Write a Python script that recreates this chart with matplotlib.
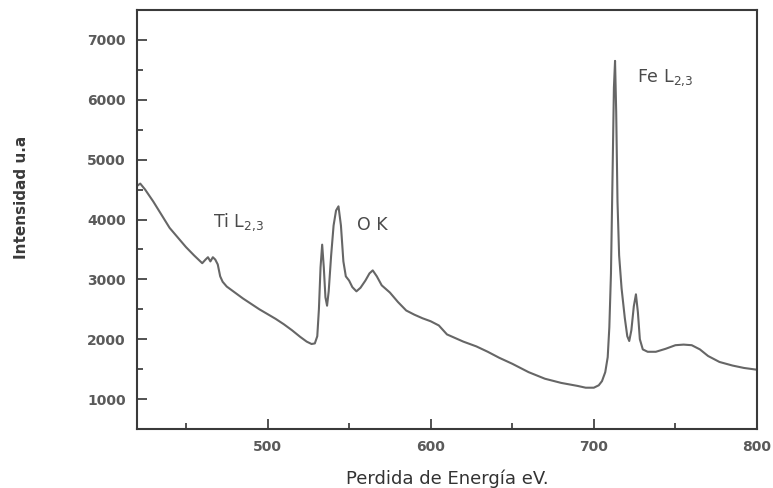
import matplotlib
matplotlib.use("Agg")
import matplotlib.pyplot as plt
from matplotlib.ticker import MultipleLocator

energy = [420, 422, 425, 430, 435, 440, 445, 450, 455, 460, 462, 463.5, 465, 466.5, 468,
          469.5, 471, 472.5, 475, 480, 485, 490, 495, 500, 505, 510, 515, 520, 524, 527,
          529, 530.5, 531.5, 532.5, 533.5, 534.5, 535.5, 536.5, 537.5, 539, 540.5, 542,
          543.5, 545, 546.5, 548, 550, 552, 554.5, 557, 560, 562.5, 564.5, 567, 570, 575,
          580, 585, 590, 595, 600, 605, 610, 615, 620, 628, 635, 642, 650, 660, 670, 680,
          690, 695, 700, 703, 705, 707, 708.5, 709.5, 710.5, 711.5, 712.3, 713, 713.7,
          714.5, 715.5, 717, 719, 720.5, 721.7, 723, 724.5, 725.8, 727, 728.2, 730, 733,
          738, 744, 750, 755, 760, 765, 770, 777, 785, 792, 800]
intensity = [4560, 4600, 4500, 4300, 4080, 3860, 3700, 3540, 3400, 3270, 3330, 3370, 3300,
             3370, 3330, 3250, 3050, 2960, 2880, 2780, 2680, 2590, 2500, 2420, 2340, 2250,
             2150, 2040, 1960, 1920, 1930, 2050, 2500, 3200, 3580, 3200, 2700, 2560, 2800,
             3400, 3900, 4150, 4220, 3900, 3300, 3050, 2980, 2870, 2800, 2860, 2980, 3100,
             3150, 3050, 2900, 2780, 2620, 2480, 2410, 2350, 2300, 2230, 2080, 2020, 1960,
             1880, 1790, 1690, 1590, 1450, 1340, 1270, 1220, 1190, 1190, 1230, 1300, 1450,
             1700, 2200, 3100, 4800, 6200, 6650, 5800, 4300, 3400, 2850, 2350, 2050, 1970,
             2150, 2550, 2750, 2450, 2000, 1830, 1790, 1790, 1840, 1900, 1910, 1900, 1830,
             1720, 1620, 1560, 1520, 1490]

x_ticks = [500, 600, 700, 800]
y_ticks = [1000, 2000, 3000, 4000, 5000, 6000, 7000]

plt.rcParams["mathtext.default"] = "regular"

fig = plt.figure(figsize=(7.73, 4.88), dpi=100)
ax = fig.add_axes([0.1772, 0.1209, 0.8021, 0.8586])

ax.plot(energy, intensity, color="#666666", lw=1.5)

ax.set_xlim(420, 800)
ax.set_ylim(500, 7500)
ax.set_xticks(x_ticks)
ax.set_yticks(y_ticks)
ax.xaxis.set_minor_locator(MultipleLocator(50))
ax.yaxis.set_minor_locator(MultipleLocator(500))
ax.tick_params(which="both", direction="in", top=False, right=False,
               colors="#444444", labelcolor="#5a5a5a", labelsize=10, width=1.3)
ax.tick_params(which="major", length=7, pad=8)
ax.tick_params(which="minor", length=4)
for lab in ax.get_xticklabels() + ax.get_yticklabels():
    lab.set_fontweight("bold")
for s in ax.spines.values():
    s.set_color("#3a3a3a")
    s.set_linewidth(1.5)

ax.set_xlabel("Perdida de Energía eV.", fontsize=13, color="#333333", labelpad=11)
fig.text(0.028, 0.596, "Intensidad u.a", rotation=90, fontsize=11, color="#3a3a3a",
         ha="center", va="center", fontweight="bold")

tc = "#4a4a4a"
ax.text(466.5, 3880, r"Ti L$_{2{,}3}$", fontsize=12.5, color=tc)
ax.text(554.8, 3820, "O K", fontsize=12.5, color=tc)
ax.text(726.4, 6300, r"Fe L$_{2{,}3}$", fontsize=12.5, color=tc)

fig.savefig("out.png", dpi=100)
